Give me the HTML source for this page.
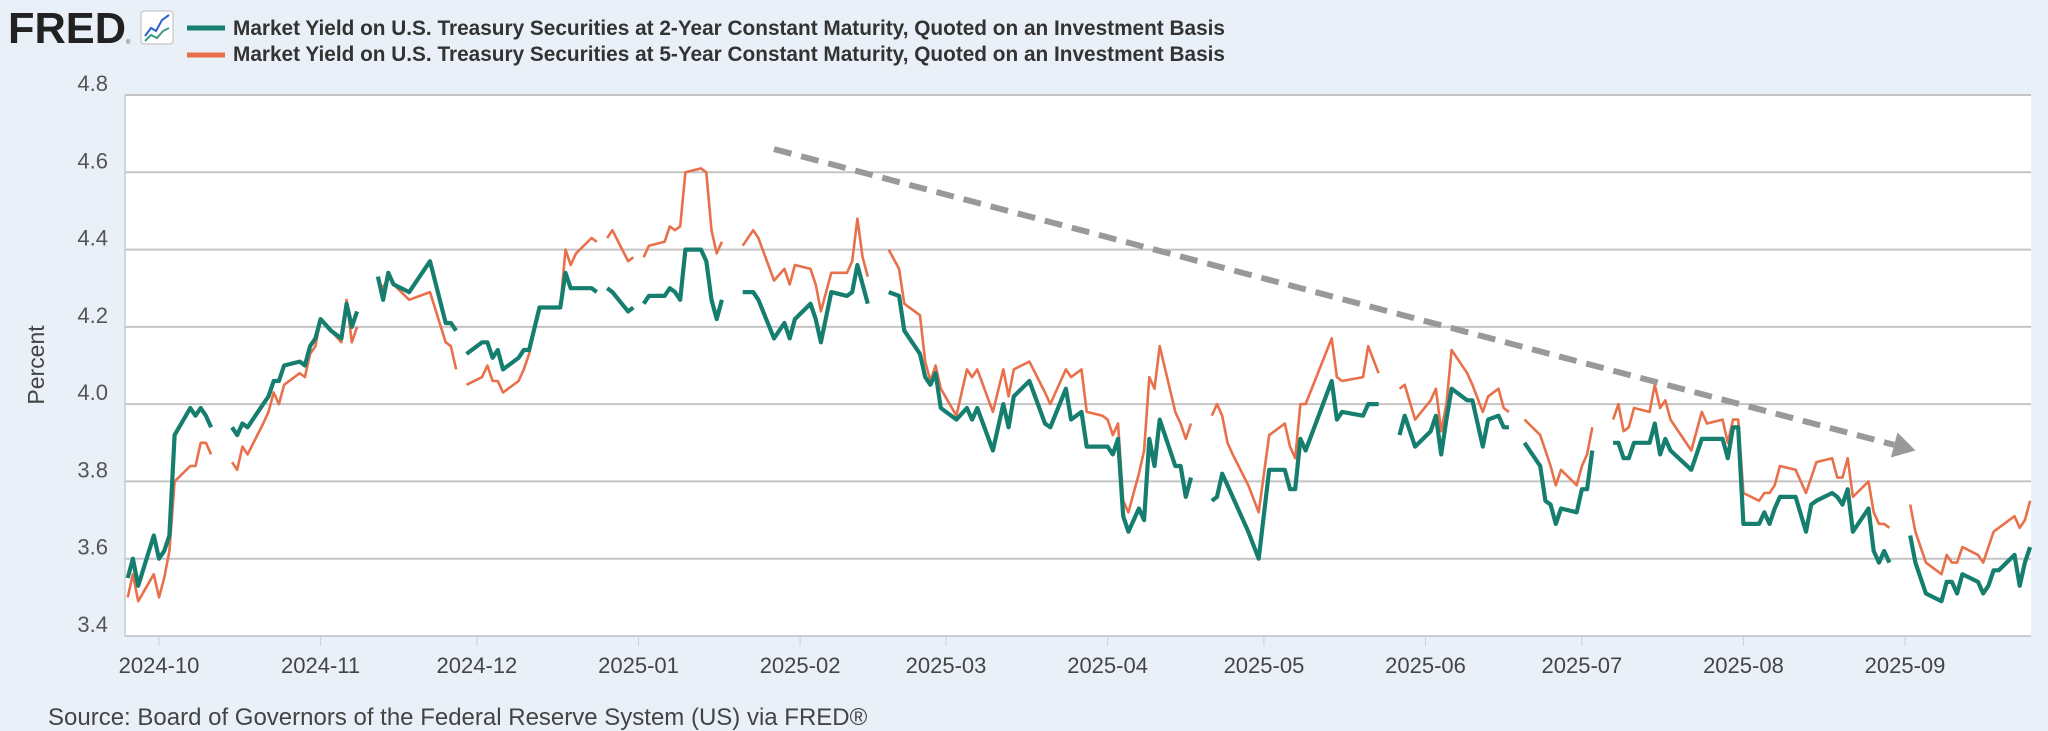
<!DOCTYPE html>
<html><head><meta charset="utf-8"><style>
html,body{margin:0;padding:0;background:#eaf0f8;}
svg{display:block;font-family:"Liberation Sans",sans-serif;}
</style></head><body>
<svg id="chart" width="2048" height="731" viewBox="0 0 2048 731" xmlns="http://www.w3.org/2000/svg">
<rect x="0" y="0" width="2048" height="731" fill="#eaf0f8"/>
<g>
<text x="8" y="43" font-size="44" font-weight="bold" fill="#222" textLength="118" lengthAdjust="spacingAndGlyphs">FRED</text>
<text x="126" y="44" font-size="6" fill="#555">®</text>
<rect x="141" y="11" width="32" height="33" rx="3" fill="#fff" stroke="#bbb" stroke-width="1"/>
<polyline points="145,36 151,28 156,31 162,20 169,15" fill="none" stroke="#2a63c9" stroke-width="2"/>
<polyline points="145,41 151,35 157,38 163,31 169,28" fill="none" stroke="#3a9a80" stroke-width="2"/>
</g>
<g>
<g>
<line x1="187" y1="28" x2="225" y2="28" stroke="#167e6f" stroke-width="5"/>
<text x="233" y="35" font-size="21" font-weight="bold" fill="#333" textLength="992" lengthAdjust="spacingAndGlyphs">Market Yield on U.S. Treasury Securities at 2-Year Constant Maturity, Quoted on an Investment Basis</text>
</g>
<g>
<line x1="187" y1="55" x2="225" y2="55" stroke="#e8704a" stroke-width="5"/>
<text x="233" y="61" font-size="21" font-weight="bold" fill="#333" textLength="992" lengthAdjust="spacingAndGlyphs">Market Yield on U.S. Treasury Securities at 5-Year Constant Maturity, Quoted on an Investment Basis</text>
</g>
</g>
<rect x="125" y="95" width="1906" height="541" fill="#fff"/>
<g id="grid"></g>
<g id="yaxis"></g>
<g id="xaxis"></g>
<text x="0" y="0" transform="translate(44,365) rotate(-90)" text-anchor="middle" font-size="23" fill="#444">Percent</text>
<g id="series"></g>
<g id="trend"></g>
<text x="48" y="725" font-size="24" fill="#444">Source: Board of Governors of the Federal Reserve System (US) via FRED®</text>
</svg>
<script>
const yTicks = [3.4, 3.6, 3.8, 4.0, 4.2, 4.4, 4.6, 4.8];
const yTickLabels = ["3.4","3.6","3.8","4.0","4.2","4.4","4.6","4.8"];
const xTickDates = ["2024-10-01","2024-11-01","2024-12-01","2025-01-01","2025-02-01","2025-03-01","2025-04-01","2025-05-01","2025-06-01","2025-07-01","2025-08-01","2025-09-01"];
const xTickLabels = ["2024-10","2024-11","2024-12","2025-01","2025-02","2025-03","2025-04","2025-05","2025-06","2025-07","2025-08","2025-09"];
const dates = ["2024-09-25","2024-09-26","2024-09-27","2024-09-30","2024-10-01","2024-10-02","2024-10-03","2024-10-04","2024-10-07","2024-10-08","2024-10-09","2024-10-10","2024-10-11","2024-10-14",
"2024-10-15","2024-10-16","2024-10-17","2024-10-18","2024-10-21","2024-10-22","2024-10-23","2024-10-24","2024-10-25","2024-10-28","2024-10-29","2024-10-30","2024-10-31","2024-11-01","2024-11-03","2024-11-05","2024-11-06","2024-11-07","2024-11-08","2024-11-11",
"2024-11-12","2024-11-13","2024-11-14","2024-11-15","2024-11-18","2024-11-22","2024-11-25","2024-11-26","2024-11-27","2024-11-28",
"2024-11-29","2024-12-02","2024-12-03","2024-12-04","2024-12-05","2024-12-06","2024-12-09","2024-12-10","2024-12-11","2024-12-13","2024-12-17","2024-12-18","2024-12-19","2024-12-20","2024-12-23","2024-12-24","2024-12-25",
"2024-12-26","2024-12-27","2024-12-30","2024-12-31","2025-01-01",
"2025-01-02","2025-01-03","2025-01-06","2025-01-07","2025-01-08","2025-01-09","2025-01-10","2025-01-13","2025-01-14","2025-01-15","2025-01-16","2025-01-17","2025-01-20",
"2025-01-21","2025-01-23","2025-01-24","2025-01-27","2025-01-29","2025-01-30","2025-01-31","2025-02-03","2025-02-04","2025-02-05","2025-02-07","2025-02-10","2025-02-11","2025-02-12","2025-02-13","2025-02-14","2025-02-17",
"2025-02-18","2025-02-20","2025-02-21","2025-02-24","2025-02-25","2025-02-26","2025-02-27","2025-02-28","2025-03-03","2025-03-05","2025-03-06","2025-03-07","2025-03-10","2025-03-12","2025-03-13","2025-03-14","2025-03-17","2025-03-20","2025-03-21","2025-03-24","2025-03-25","2025-03-27","2025-03-28","2025-03-31",
"2025-04-01","2025-04-02","2025-04-03","2025-04-04","2025-04-05","2025-04-07","2025-04-08","2025-04-09","2025-04-10","2025-04-11","2025-04-14","2025-04-15","2025-04-16","2025-04-17","2025-04-18",
"2025-04-21","2025-04-22","2025-04-23","2025-04-24","2025-04-25","2025-04-28","2025-04-30","2025-05-02","2025-05-05","2025-05-06","2025-05-07","2025-05-08","2025-05-09","2025-05-14","2025-05-15","2025-05-16","2025-05-20","2025-05-21","2025-05-23","2025-05-26",
"2025-05-27","2025-05-28","2025-05-30","2025-06-02","2025-06-03","2025-06-04","2025-06-05","2025-06-06","2025-06-09","2025-06-10","2025-06-12","2025-06-13","2025-06-15","2025-06-16","2025-06-17","2025-06-18",
"2025-06-20","2025-06-23","2025-06-24","2025-06-25","2025-06-26","2025-06-27","2025-06-30","2025-07-01","2025-07-02","2025-07-03","2025-07-04",
"2025-07-07","2025-07-08","2025-07-09","2025-07-10","2025-07-11","2025-07-14","2025-07-15","2025-07-16","2025-07-17","2025-07-18","2025-07-22","2025-07-24","2025-07-25","2025-07-28","2025-07-29","2025-07-30","2025-07-31",
"2025-08-01","2025-08-04","2025-08-05","2025-08-06","2025-08-07","2025-08-08","2025-08-11","2025-08-13","2025-08-14","2025-08-15","2025-08-18","2025-08-19","2025-08-20","2025-08-21","2025-08-22","2025-08-25","2025-08-26","2025-08-27","2025-08-28","2025-08-29","2025-09-01",
"2025-09-02","2025-09-03","2025-09-05","2025-09-08","2025-09-09","2025-09-10","2025-09-11","2025-09-12","2025-09-15","2025-09-16","2025-09-17","2025-09-18","2025-09-19","2025-09-22","2025-09-23","2025-09-24","2025-09-25"];
const yield2y = [3.55,3.60,3.53,3.66,3.60,3.62,3.66,3.92,3.99,3.97,3.99,3.97,3.94,null,
3.94,3.92,3.95,3.94,4.00,4.02,4.06,4.06,4.10,4.11,4.10,4.15,4.17,4.22,4.19,4.17,4.26,4.20,4.24,null,
4.33,4.27,4.34,4.31,4.29,4.37,4.21,4.21,4.19,null,
4.13,4.16,4.16,4.12,4.14,4.09,4.12,4.14,4.14,4.25,4.25,4.34,4.30,4.30,4.30,4.29,null,
4.30,4.29,4.24,4.25,null,
4.26,4.28,4.28,4.30,4.29,4.27,4.40,4.40,4.37,4.27,4.22,4.27,null,
4.29,4.29,4.27,4.17,4.21,4.17,4.22,4.26,4.22,4.16,4.29,4.28,4.29,4.36,4.31,4.26,null,
4.29,4.28,4.19,4.13,4.07,4.05,4.08,3.99,3.96,3.99,3.96,3.99,3.88,4.00,3.94,4.02,4.06,3.95,3.94,4.04,3.96,3.98,3.89,3.89,
3.89,3.87,3.91,3.71,3.67,3.73,3.70,3.91,3.84,3.96,3.84,3.84,3.76,3.81,null,
3.75,3.76,3.82,3.79,3.76,3.67,3.60,3.83,3.83,3.78,3.78,3.91,3.88,4.06,3.96,3.98,3.97,4.00,4.00,null,
3.92,3.97,3.89,3.93,3.97,3.87,3.96,4.04,4.01,4.01,3.89,3.96,3.97,3.94,3.94,null,
3.90,3.84,3.75,3.74,3.69,3.73,3.72,3.78,3.78,3.88,null,
3.90,3.90,3.86,3.86,3.90,3.90,3.95,3.87,3.91,3.88,3.83,3.91,3.91,3.91,3.86,3.94,3.94,
3.69,3.69,3.72,3.69,3.73,3.76,3.76,3.67,3.74,3.75,3.77,3.76,3.74,3.78,3.67,3.73,3.62,3.59,3.62,3.59,null,
3.66,3.59,3.51,3.49,3.54,3.54,3.51,3.56,3.54,3.51,3.53,3.57,3.57,3.61,3.53,3.59,3.63];
const yield5y = [3.50,3.56,3.49,3.56,3.50,3.55,3.62,3.80,3.84,3.84,3.90,3.90,3.87,null,
3.85,3.83,3.89,3.87,3.95,3.98,4.03,4.00,4.05,4.08,4.07,4.13,4.15,4.22,4.19,4.16,4.27,4.16,4.20,null,
4.32,4.30,4.33,4.31,4.27,4.29,4.16,4.15,4.09,null,
4.05,4.07,4.10,4.06,4.06,4.03,4.06,4.09,4.13,4.25,4.25,4.40,4.36,4.39,4.43,4.42,null,
4.43,4.45,4.37,4.38,null,
4.38,4.41,4.42,4.46,4.45,4.46,4.60,4.61,4.60,4.45,4.39,4.42,null,
4.41,4.45,4.43,4.32,4.35,4.31,4.36,4.35,4.31,4.24,4.34,4.34,4.37,4.48,4.38,4.33,null,
4.40,4.35,4.26,4.23,4.11,4.06,4.10,4.04,3.97,4.09,4.07,4.09,3.98,4.09,4.02,4.09,4.11,4.03,4.00,4.09,4.07,4.09,3.98,3.97,
3.96,3.92,3.95,3.75,3.72,3.82,3.88,4.07,4.04,4.15,3.98,3.95,3.91,3.95,null,
3.97,4.00,3.97,3.90,3.87,3.79,3.72,3.92,3.95,3.89,3.86,4.00,4.00,4.17,4.07,4.06,4.07,4.15,4.08,null,
4.04,4.05,3.96,4.01,4.04,3.93,4.00,4.14,4.08,4.05,3.98,4.02,4.04,3.99,3.98,null,
3.96,3.92,3.88,3.84,3.79,3.83,3.79,3.84,3.87,3.94,null,
3.96,4.00,3.93,3.94,3.99,3.98,4.05,3.99,4.01,3.96,3.88,3.98,3.95,3.96,3.90,3.96,3.96,
3.77,3.75,3.77,3.77,3.79,3.84,3.83,3.77,3.81,3.85,3.86,3.81,3.81,3.86,3.76,3.80,3.72,3.69,3.69,3.68,null,
3.74,3.67,3.59,3.56,3.61,3.59,3.59,3.63,3.61,3.59,3.63,3.67,3.68,3.71,3.68,3.70,3.75];
const trendStart = ["2025-01-27", 4.66];
const trendEnd = ["2025-09-03", 3.88];

const NS = "http://www.w3.org/2000/svg";
const X0 = 159, PX_PER_DAY = 5.212, ORIGIN = Date.UTC(2024, 9, 1);
const PLOT_L = 125, PLOT_R = 2031, PLOT_T = 95, PLOT_B = 636;
function dayNum(s){ const p = s.split("-"); return (Date.UTC(+p[0], +p[1]-1, +p[2]) - ORIGIN) / 86400000; }
function xScale(s){ return X0 + dayNum(s) * PX_PER_DAY; }
function yScale(v){ return PLOT_B - (v - 3.4) / 1.4 * (PLOT_B - PLOT_T); }
function mk(tag, attrs, parent){ const el = document.createElementNS(NS, tag); for (const k in attrs) el.setAttribute(k, attrs[k]); parent.appendChild(el); return el; }

const grid = document.getElementById("grid"), yax = document.getElementById("yaxis"), xax = document.getElementById("xaxis");
yTicks.forEach((v, i) => {
  const y = yScale(v);
  const gl = mk("line", {x1: PLOT_L, x2: PLOT_R, y1: y, y2: y, stroke: "#c4c4c4", "stroke-width": 2}, grid);
  
  
  const t = mk("text", {x: 108, y: y - 4, "text-anchor": "end", "font-size": 22, fill: "#555"}, yax);
  t.textContent = yTickLabels[i];
  
  
});
const lb = mk("line", {x1: PLOT_L, x2: PLOT_L, y1: PLOT_T, y2: PLOT_B, stroke: "#c8ccd4", "stroke-width": 1.5}, grid);


const bb = mk("line", {x1: PLOT_L, x2: PLOT_R, y1: PLOT_B, y2: PLOT_B, stroke: "#c8ccd4", "stroke-width": 2}, grid);


xTickDates.forEach((d, i) => {
  const x = xScale(d);
  const tk = mk("line", {x1: x, x2: x, y1: PLOT_B, y2: PLOT_B + 10, stroke: "#c8d0dc", "stroke-width": 1}, xax);
  
  
  const t = mk("text", {x: x, y: 673, "text-anchor": "middle", "font-size": 22, fill: "#444"}, xax);
  t.textContent = xTickLabels[i];
  
  
});

function drawSeries(vals, color, width, name){
  const g = document.getElementById("series");
  let segs = [], cur = [];
  vals.forEach((v, i) => {
    if (v === null) { if (cur.length) segs.push(cur); cur = []; }
    else cur.push(xScale(dates[i]).toFixed(1) + "," + yScale(v).toFixed(1));
  });
  if (cur.length) segs.push(cur);
  segs.forEach((s, k) => {
    const pl = mk("polyline", {points: s.join(" "), fill: "none", stroke: color, "stroke-width": width, "stroke-linejoin": "round"}, g);
    
    
  });
}
drawSeries(yield5y, "#e8704a", 2.6, "yield-5-year");
drawSeries(yield2y, "#167e6f", 4.2, "yield-2-year");

(function(){
  const tg = document.getElementById("trend");
  const x1 = xScale(trendStart[0]), y1 = yScale(trendStart[1]);
  const x2 = xScale(trendEnd[0]), y2 = yScale(trendEnd[1]);
  const dx = x2 - x1, dy = y2 - y1, L = Math.hypot(dx, dy), ux = dx / L, uy = dy / L;
  const head = 22, half = 13;
  const bx = x2 - ux * head, by = y2 - uy * head;
  const ln = mk("line", {x1: x1, y1: y1, x2: bx, y2: by, stroke: "#999", "stroke-width": 6, "stroke-dasharray": "18 10"}, tg);
  
  
  const pts = [x2 + "," + y2, (bx - uy * half) + "," + (by + ux * half), (bx + uy * half) + "," + (by - ux * half)].join(" ");
  const ah = mk("polygon", {points: pts, fill: "#999"}, tg);
  
  
})();
</script>
</body></html>
